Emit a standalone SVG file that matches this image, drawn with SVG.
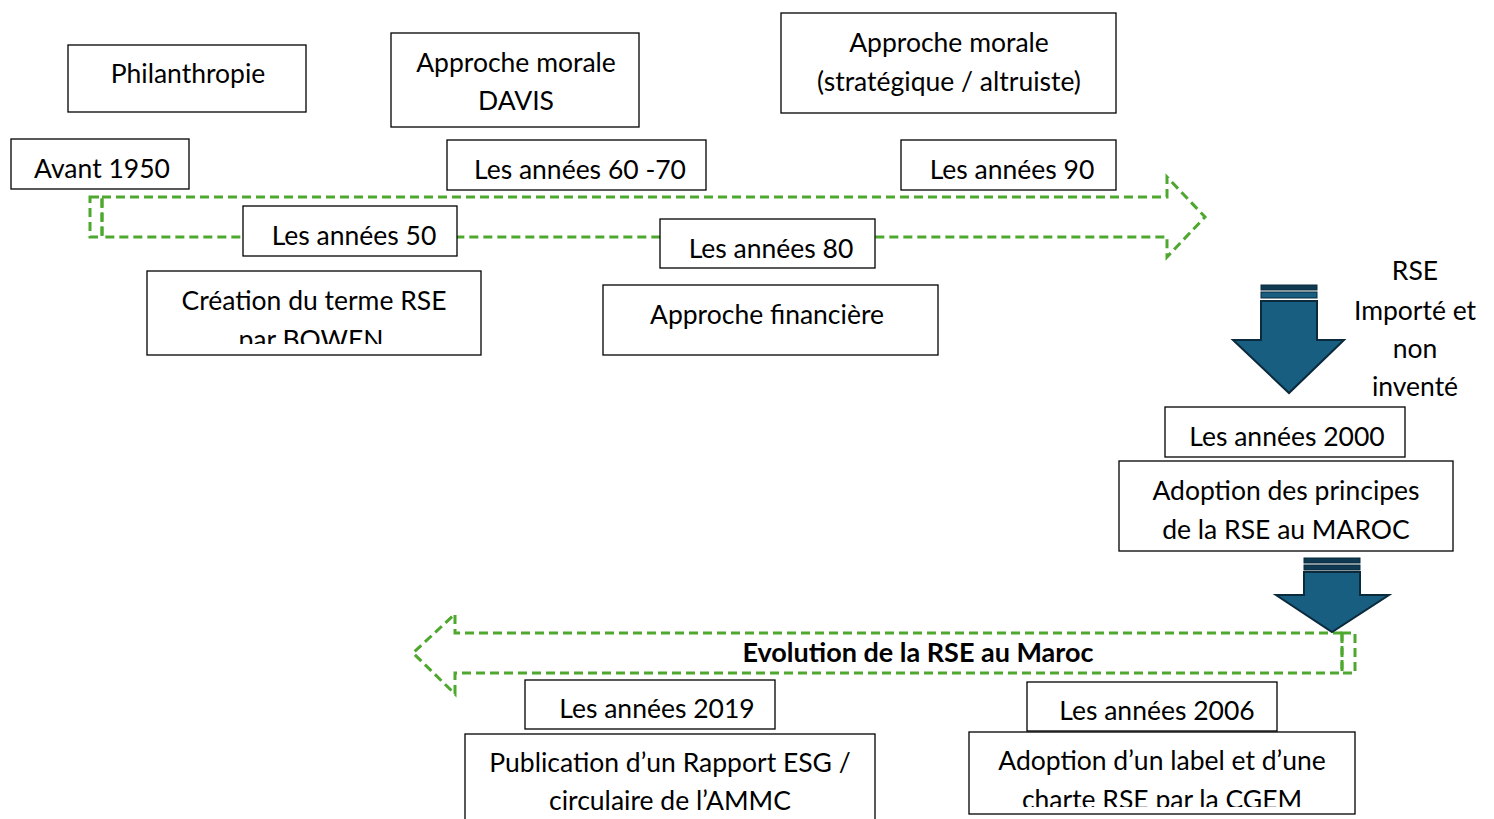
<svg xmlns="http://www.w3.org/2000/svg" width="1494" height="819" viewBox="0 0 1494 819">
<style>
.box{fill:#fff;stroke:#000;stroke-width:1.3}
.t{font-family:Lato,"Liberation Sans",sans-serif;font-size:26.5px;fill:#000;text-anchor:middle}
.b{font-weight:bold;font-size:27px}
.g{fill:none;stroke:#4EA72E;stroke-width:3;stroke-dasharray:9 5}
.dn{fill:#175E80;stroke:#0B2A3C;stroke-width:2}
.st{fill:#0F3A52;stroke:#0B2A3C;stroke-width:1}
</style>
<defs>
<clipPath id="c1"><rect x="147" y="271" width="334" height="73"/></clipPath>
<clipPath id="c2"><rect x="465" y="734" width="410" height="78"/></clipPath>
<clipPath id="c3"><rect x="969" y="732" width="386" height="75"/></clipPath>
</defs>
<g id="connectors">
<path class="g" d="M102,197 H1167 V177 L1205,217 L1167,257 V237 H102 Z"/>
<rect class="g" x="90" y="197" width="12" height="40" stroke-dasharray="4 3"/>
<path class="g" d="M1342,633 H455 V614 L413,653 L455,694 V673 H1342 Z"/>
<rect class="g" x="1342" y="633" width="13" height="40" stroke-dasharray="4 3"/>
</g>
<g id="arrow-down-1">
<rect class="st" x="1261" y="285" width="56" height="5"/>
<rect class="st" x="1261" y="292" width="56" height="6" style="fill:#175E80"/>
<path class="dn" d="M1261,301 H1317 V340 H1344 L1289,393 L1233,340 H1261 Z"/>
</g>
<g id="arrow-down-2">
<rect class="st" x="1304" y="558" width="56" height="5"/>
<rect class="st" x="1304" y="565" width="56" height="5"/>
<path class="dn" d="M1304,572 H1360 V595 H1389 L1332,632 L1276,595 H1304 Z"/>
</g>
<g id="n-philanthropie"><rect class="box" x="68" y="45" width="238" height="67"/><text class="t" x="188" y="83">Philanthropie</text></g>
<g id="n-davis"><rect class="box" x="391" y="33" width="248" height="94"/><text class="t" x="516" y="72">Approche morale</text><text class="t" x="516" y="110">DAVIS</text></g>
<g id="n-strat"><rect class="box" x="781" y="13" width="335" height="100"/><text class="t" x="949" y="52">Approche morale</text><text class="t" x="949" y="91">(stratégique / altruiste)</text></g>
<g id="n-1950"><rect class="box" x="11" y="139" width="178" height="50"/><text class="t" x="102" y="178">Avant 1950</text></g>
<g id="n-6070"><rect class="box" x="447" y="140" width="259" height="50"/><text class="t" x="580" y="179">Les années 60 -70</text></g>
<g id="n-90"><rect class="box" x="901" y="140" width="215" height="50"/><text class="t" x="1012" y="179">Les années 90</text></g>
<g id="n-50"><rect class="box" x="243" y="206" width="214" height="50"/><text class="t" x="354" y="245">Les années 50</text></g>
<g id="n-80"><rect class="box" x="660" y="219" width="215" height="49"/><text class="t" x="771" y="258">Les années 80</text></g>
<g id="n-bowen"><rect class="box" x="147" y="271" width="334" height="84"/><g clip-path="url(#c1)"><text class="t" x="314" y="310">Création du terme RSE</text><text class="t" x="311" y="349">par BOWEN</text></g></g>
<g id="n-fin"><rect class="box" x="603" y="285" width="335" height="70"/><text class="t" x="767" y="324">Approche financière</text></g>
<g id="n-rse"><text class="t" x="1415" y="280">RSE</text><text class="t" x="1415" y="320">Importé et</text><text class="t" x="1415" y="358">non</text><text class="t" x="1415" y="396">inventé</text></g>
<g id="n-2000"><rect class="box" x="1165" y="407" width="240" height="50"/><text class="t" x="1287" y="446">Les années 2000</text></g>
<g id="n-maroc"><rect class="box" x="1119" y="461" width="334" height="90"/><text class="t" x="1286" y="500">Adoption des principes</text><text class="t" x="1286" y="539">de la RSE au MAROC</text></g>
<g id="n-title"><text class="t b" x="918" y="662">Evolution de la RSE au Maroc</text></g>
<g id="n-2019"><rect class="box" x="525" y="680" width="250" height="49"/><text class="t" x="657" y="718">Les années 2019</text></g>
<g id="n-esg"><rect class="box" x="465" y="734" width="410" height="90"/><g clip-path="url(#c2)"><text class="t" x="670" y="772">Publication d’un Rapport ESG /</text><text class="t" x="670" y="810">circulaire de l’AMMC</text></g></g>
<g id="n-2006"><rect class="box" x="1027" y="682" width="250" height="49"/><text class="t" x="1157" y="720">Les années 2006</text></g>
<g id="n-cgem"><rect class="box" x="969" y="732" width="386" height="82"/><g clip-path="url(#c3)"><text class="t" x="1162" y="770">Adoption d’un label et d’une</text><text class="t" x="1162" y="809">charte RSE par la CGEM</text></g></g>
</svg>
